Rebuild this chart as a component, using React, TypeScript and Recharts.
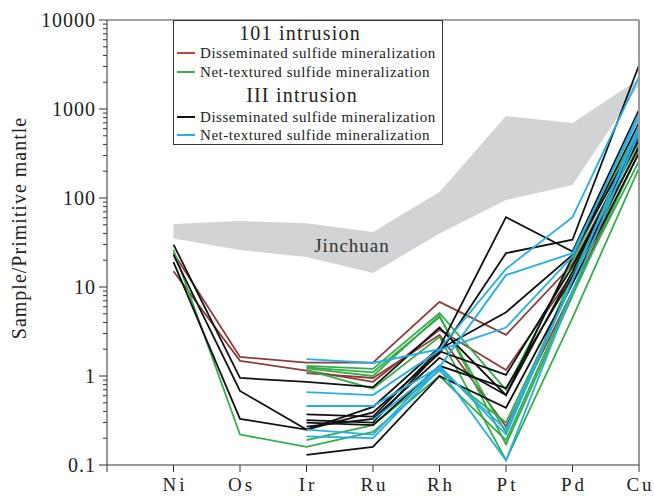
import React from 'react';
import { ComposedChart, Line, Area, XAxis, YAxis, ReferenceLine } from 'recharts';

// Element order along the x axis (position 0 is an empty slot before Ni)
const elements = ['', 'Ni', 'Os', 'Ir', 'Ru', 'Rh', 'Pt', 'Pd', 'Cu'];

// Jinchuan field (lower and upper envelope), Ni..Cu
const jinchuanLow = [35, 26, 21.7, 14.4, 40, 95, 140, 1860];
const jinchuanHigh = [51, 55, 52, 41.5, 117, 834, 696, 2170];

// 101 intrusion, disseminated sulfide mineralization
const red1 = [24, 1.64, 1.41, 1.41, 6.8, 2.9, 18, 480];
const red2 = [15, 1.48, 1.15, 0.86, 3.3, 1.17, 14, 370];
const red3 = [null, null, 1.08, 0.95, 2.9, 0.27, 9, 330];

// 101 intrusion, net-textured sulfide mineralization
const green1 = [26, 0.22, 0.16, 0.235, 1.0, 0.19, 9, 260];
const green2 = [null, null, 1.3, 1.2, 5.1, 0.7, 20, 620];
const green3 = [null, null, 1.25, 1.1, 4.6, 0.23, 14, 450];
const green4 = [null, null, 1.17, 0.72, 2.75, 0.113, 4.5, 217];
const green5 = [null, null, 0.19, 0.28, 1.15, 0.3, 11, 400];
const green6 = [null, null, 1.22, 1.0, 4.8, 0.17, 8, 330];

// III intrusion, disseminated sulfide mineralization
const black1 = [30, 0.95, 0.86, 0.75, 3.5, 0.61, 22, 700];
const black2 = [23, 0.68, 0.25, 0.45, 2.1, 61, 25, 975];
const black3 = [19, 0.33, 0.25, 0.39, 1.8, 24, 34, 3100];
const black4 = [null, null, 0.37, 0.35, 2.0, 5.2, 23, 510];
const black5 = [null, null, 0.32, 0.3, 1.9, 1.03, 17, 450];
const black6 = [null, null, 0.3, 0.28, 1.3, 0.73, 13, 375];
const black7 = [null, null, 0.13, 0.16, 1.0, 0.44, 11, 320];
const black8 = [null, null, 0.27, 0.33, 1.6, 0.61, 15, 560];

// III intrusion, net-textured sulfide mineralization
const blue1 = [null, null, 1.55, 1.4, 2.0, 16, 61, 2300];
const blue2 = [null, null, 0.66, 0.61, 1.95, 3.5, 22, 900];
const blue3 = [null, null, 0.46, 0.46, 1.26, 13.6, 24, 800];
const blue4 = [null, null, 0.25, 0.22, 1.3, 0.22, 12, 650];
const blue5 = [null, null, 0.21, 0.2, 1.2, 0.113, 9, 540];
const blue6 = [null, null, null, 0.32, 1.25, 0.25, 12, 600];

const RED = '#8e3b3b';
const GREEN = '#35ad4a';
const BLACK = '#111111';
const BLUE = '#27aee3';
const FONT = '"Liberation Serif", "Times New Roman", serif';

const groups: { color: string; lines: (number | null)[][] }[] = [
  { color: RED, lines: [red1, red2, red3] },
  { color: GREEN, lines: [green1, green2, green3, green4, green5, green6] },
  { color: BLACK, lines: [black1, black2, black3, black4, black5, black6, black7, black8] },
  { color: BLUE, lines: [blue1, blue2, blue3, blue4, blue5, blue6] },
];

const seriesList = groups.flatMap((g, gi) =>
  g.lines.map((values, li) => ({ key: `s${gi}_${li}`, color: g.color, values }))
);

const rows = elements.map((name, i) => {
  const row: Record<string, any> = { x: i, name };
  if (i > 0) {
    row.band = [jinchuanLow[i - 1], jinchuanHigh[i - 1]];
    seriesList.forEach((s) => {
      row[s.key] = s.values[i - 1];
    });
  }
  return row;
});

// Log ticks: majors at each decade, minors at 2..9
const yTicks: number[] = [];
for (let e = -1; e <= 4; e++) {
  const base = Math.pow(10, e);
  for (let k = 1; k <= (e === 4 ? 1 : 9); k++) yTicks.push(base * k);
}
const xTicks = [0, 1, 2, 3, 4, 5, 6, 7, 8];

const YTick = (props: any) => {
  const { x, y, payload } = props;
  const v = payload.value;
  const lg = Math.log10(v);
  const major = Math.abs(lg - Math.round(lg)) < 1e-6;
  return (
    <g>
      <line x1={x - (major ? 8 : 4)} x2={x} y1={y} y2={y} stroke="#333" strokeWidth={1} />
      {major && (
        <text
          x={x - 11}
          y={y}
          dy="0.36em"
          textAnchor="end"
          fontSize={20}
          fontFamily={FONT}
          fill="#222"
          letterSpacing={1}
        >
          {v < 1 ? '0.1' : String(Math.round(v))}
        </text>
      )}
    </g>
  );
};

const XTick = (props: any) => {
  const { x, y, payload } = props;
  const label = elements[payload.value] || '';
  return (
    <g>
      <line x1={x} x2={x} y1={y} y2={y + 7} stroke="#333" strokeWidth={1} />
      {label && (
        <text
          x={x + 1.5}
          y={y + 26}
          textAnchor="middle"
          fontSize={19}
          fontFamily={FONT}
          fill="#222"
          letterSpacing={3}
        >
          {label}
        </text>
      )}
    </g>
  );
};

const legendRows = [
  { color: '#c8423c', text: 'Disseminated sulfide mineralization', y: 58 },
  { color: GREEN, text: 'Net-textured sulfide mineralization', y: 77 },
  { color: BLACK, text: 'Disseminated sulfide mineralization', y: 122 },
  { color: BLUE, text: 'Net-textured sulfide mineralization', y: 140 },
];

export default function App() {
  return (
    <div style={{ position: 'absolute', left: 0, top: 0, width: 654, height: 496, background: '#fff' }}>
      <ComposedChart
        width={654}
        height={496}
        data={rows}
        margin={{ top: 20, right: 15, bottom: 0, left: 0 }}
      >
        <XAxis
          dataKey="x"
          type="number"
          domain={[0, 8]}
          ticks={xTicks}
          interval={0}
          height={31}
          tickSize={0}
          tickMargin={0}
          tick={<XTick />}
          axisLine={{ stroke: '#333', strokeWidth: 1 }}
          tickLine={false}
          allowDecimals={false}
        />
        <YAxis
          type="number"
          scale="log"
          domain={[0.1, 10000]}
          allowDataOverflow
          ticks={yTicks}
          interval={0}
          width={107}
          tickSize={0}
          tickMargin={0}
          tick={<YTick />}
          tickLine={false}
          axisLine={{ stroke: '#333', strokeWidth: 1 }}
        />
        <Area
          dataKey="band"
          stroke="none"
          fill="#d1d3d4"
          fillOpacity={1}
          isAnimationActive={false}
          dot={false}
          activeDot={false}
        />
        {seriesList.map((s) => (
          <Line
            key={s.key}
            dataKey={s.key}
            stroke={s.color}
            strokeWidth={1.8}
            dot={false}
            activeDot={false}
            isAnimationActive={false}
          />
        ))}
        <ReferenceLine y={10000} stroke="#444" strokeWidth={1} />
        <ReferenceLine x={8} stroke="#999" strokeWidth={2} />
      </ComposedChart>
      <svg
        width={654}
        height={496}
        style={{ position: 'absolute', left: 0, top: 0, pointerEvents: 'none' }}
        fontFamily={FONT}
      >
        <text
          x={0}
          y={0}
          transform="translate(26 228) rotate(-90)"
          textAnchor="middle"
          fontSize={20}
          fill="#222"
          letterSpacing={1}
        >
          Sample/Primitive mantle
        </text>
        <text x={352} y={252} textAnchor="middle" fontSize={19} fill="#333" letterSpacing={1}>
          Jinchuan
        </text>
        <rect x={173.5} y={20.5} width={269} height={124} fill="#fff" stroke="#333" strokeWidth={1} />
        <text x={300} y={40} textAnchor="middle" fontSize={20} fill="#222" letterSpacing={1.2}>
          101 intrusion
        </text>
        <text x={302} y={102} textAnchor="middle" fontSize={20} fill="#222" letterSpacing={1.2}>
          III intrusion
        </text>
        {legendRows.map((r, i) => (
          <g key={i}>
            <line x1={177} x2={195} y1={r.y - 5} y2={r.y - 5} stroke={r.color} strokeWidth={2} />
            <text x={200} y={r.y} fontSize={15} fill="#222" letterSpacing={0.55}>
              {r.text}
            </text>
          </g>
        ))}
      </svg>
    </div>
  );
}
